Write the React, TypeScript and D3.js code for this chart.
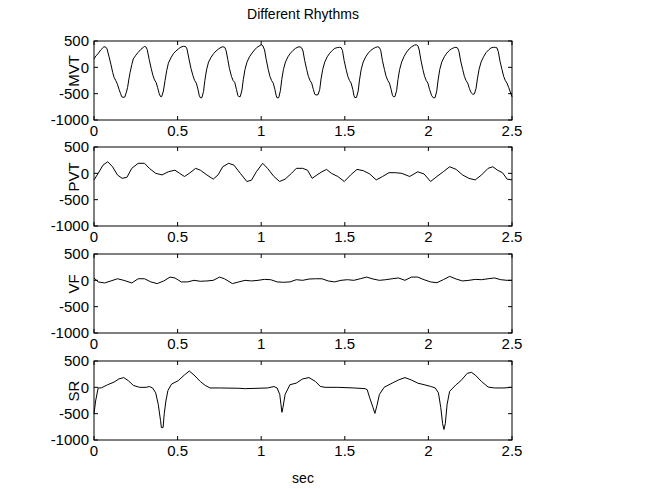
import React from 'react';
import * as d3 from 'd3';

// traces, [sec, value]
const mvt: [number, number][] = [
  [0, 160], [0.012, 220], [0.025, 260], [0.04, 330], [0.059, 390], [0.07, 385], [0.078, 350], [0.09, 200],
  [0.101, 60], [0.112, -100], [0.12, -190], [0.13, -250], [0.14, -320], [0.15, -420], [0.159, -500], [0.166, -560],
  [0.174, -570], [0.184, -565], [0.194, -470], [0.201, -380], [0.21, -200], [0.216, -95], [0.226, 50], [0.235, 160],
  [0.25, 230], [0.264, 285], [0.28, 340], [0.295, 380], [0.302, 395], [0.31, 390], [0.318, 340],
  [0.33, 150], [0.342, -20], [0.352, -150], [0.362, -240], [0.372, -290], [0.38, -380], [0.39, -500], [0.398, -557], [0.405, -555],
  [0.415, -450], [0.425, -250], [0.435, -60], [0.445, 80], [0.46, 180], [0.475, 260], [0.49, 310], [0.505, 350], [0.52, 385], [0.535, 400], [0.548, 395], [0.556, 350],
  [0.568, 160], [0.58, -20], [0.592, -160], [0.602, -250], [0.612, -300], [0.622, -420], [0.63, -540], [0.637, -580], [0.645, -575],
  [0.655, -460], [0.663, -250], [0.673, -50], [0.685, 100], [0.7, 190], [0.715, 260], [0.73, 310], [0.745, 350], [0.76, 380], [0.772, 390], [0.782, 380], [0.79, 320],
  [0.8, 150], [0.81, -20], [0.822, -170], [0.832, -250], [0.842, -290], [0.852, -420], [0.86, -530], [0.866, -557], [0.875, -555],
  [0.885, -430], [0.893, -230], [0.903, -40], [0.915, 100], [0.93, 200], [0.945, 270], [0.96, 330], [0.975, 380], [0.99, 410], [1.0, 430], [1.01, 410], [1.02, 330],
  [1.03, 150], [1.042, -40], [1.052, -170], [1.062, -250], [1.072, -300], [1.082, -420], [1.09, -540], [1.095, -580], [1.105, -575],
  [1.115, -440], [1.123, -230], [1.133, -40], [1.145, 100], [1.16, 200], [1.175, 270], [1.19, 320], [1.205, 360], [1.22, 385], [1.232, 390], [1.242, 370], [1.25, 310],
  [1.26, 130], [1.272, -40], [1.282, -170], [1.292, -250], [1.302, -300], [1.312, -420], [1.32, -510], [1.328, -525], [1.34, -520],
  [1.35, -420], [1.358, -220], [1.368, -40], [1.38, 100], [1.395, 200], [1.41, 270], [1.425, 320], [1.44, 360], [1.455, 375], [1.468, 380], [1.478, 375], [1.486, 320],
  [1.496, 130], [1.508, -40], [1.518, -170], [1.528, -250], [1.538, -300], [1.548, -420], [1.555, -540], [1.56, -575], [1.57, -570],
  [1.58, -450], [1.588, -240], [1.598, -40], [1.61, 100], [1.625, 200], [1.64, 270], [1.655, 320], [1.67, 355], [1.685, 380], [1.697, 390], [1.707, 375], [1.715, 320],
  [1.725, 130], [1.737, -40], [1.747, -170], [1.757, -250], [1.767, -300], [1.777, -420], [1.785, -530], [1.79, -557], [1.8, -555],
  [1.81, -440], [1.818, -230], [1.828, -40], [1.84, 100], [1.855, 210], [1.87, 290], [1.885, 350], [1.9, 390], [1.915, 420], [1.927, 430], [1.937, 410], [1.945, 330],
  [1.955, 140], [1.967, -40], [1.977, -170], [1.987, -250], [1.997, -300], [2.007, -420], [2.02, -540], [2.03, -580], [2.04, -575],
  [2.05, -450], [2.058, -240], [2.068, -40], [2.08, 100], [2.095, 200], [2.11, 270], [2.125, 320], [2.14, 355], [2.155, 375], [2.165, 380], [2.175, 365], [2.183, 300],
  [2.193, 120], [2.205, -40], [2.215, -170], [2.225, -250], [2.235, -300], [2.245, -400], [2.255, -480], [2.265, -510], [2.275, -505],
  [2.285, -400], [2.293, -220], [2.303, -40], [2.315, 100], [2.33, 200], [2.345, 280], [2.36, 330], [2.375, 370], [2.39, 380], [2.4, 380], [2.41, 370], [2.418, 300],
  [2.428, 120], [2.44, -40], [2.45, -170], [2.46, -250], [2.47, -300], [2.48, -380], [2.49, -470], [2.5, -560],
];

const pvt: [number, number][] = [
  [0, -125], [0.025, 0], [0.054, 156], [0.082, 220], [0.111, 125], [0.14, -30], [0.168, -95], [0.197, -75],
  [0.226, 95], [0.264, 190], [0.302, 190], [0.331, 95], [0.369, 0], [0.407, -30], [0.445, 30], [0.484, 60],
  [0.512, 0], [0.541, -60], [0.57, 0], [0.608, 95], [0.636, 60], [0.675, -30], [0.713, -110], [0.742, -30],
  [0.77, 125], [0.805, 190], [0.837, 156], [0.875, 0], [0.914, -155], [0.942, -130], [0.971, 30], [1.009, 190],
  [1.038, 95], [1.076, -60], [1.11, -155], [1.143, -110], [1.181, 0], [1.21, 95], [1.248, 95], [1.277, 60],
  [1.305, -95], [1.334, -30], [1.363, 30], [1.391, 75], [1.42, 0], [1.458, -60], [1.497, -155], [1.535, -30],
  [1.573, 75], [1.611, 50], [1.649, -12], [1.688, -125], [1.726, -60], [1.764, 12], [1.802, 12], [1.841, 0],
  [1.888, -60], [1.936, 30], [1.974, -12], [2.013, -155], [2.051, -60], [2.089, 30], [2.127, 125], [2.166, 75],
  [2.204, -30], [2.242, -95], [2.28, -125], [2.318, -30], [2.357, 95], [2.385, 125], [2.413, 60], [2.443, 12],
  [2.471, -110], [2.5, -125],
];

const vf: [number, number][] = [
  [0, 45], [0.025, -30], [0.063, -50], [0.101, -12], [0.14, 30], [0.178, 0], [0.226, -50], [0.264, 30],
  [0.302, 30], [0.34, -30], [0.378, -62], [0.417, -12], [0.455, 62], [0.484, 45], [0.522, -30], [0.56, -30],
  [0.598, 0], [0.636, -18], [0.675, -12], [0.713, 0], [0.751, 62], [0.78, 30], [0.828, -62], [0.866, -30],
  [0.904, 0], [0.942, -12], [0.981, 0], [1.019, 18], [1.057, 12], [1.095, -30], [1.133, -37], [1.172, -30],
  [1.21, 12], [1.248, 0], [1.286, 25], [1.325, 30], [1.363, 30], [1.401, -12], [1.439, -30], [1.477, 0],
  [1.516, 12], [1.554, 0], [1.592, 30], [1.631, 62], [1.669, 25], [1.707, 0], [1.745, 12], [1.783, 30],
  [1.821, 45], [1.86, 0], [1.898, 62], [1.936, 62], [1.974, 12], [2.013, -30], [2.051, -45], [2.089, 12],
  [2.127, 75], [2.166, 25], [2.204, -12], [2.242, 0], [2.28, 18], [2.318, 12], [2.357, 30], [2.395, 45],
  [2.433, 12], [2.471, 0], [2.5, 0],
];

const sr: [number, number][] = [
  [0, -500], [0.0096, -260], [0.025, -12], [0.044, -10], [0.082, 50], [0.12, 100], [0.149, 160], [0.178, 185],
  [0.206, 125], [0.235, 37], [0.273, 0], [0.312, 0], [0.331, 15], [0.35, -10], [0.369, -105], [0.384, -320],
  [0.398, -630], [0.403, -765], [0.413, -765], [0.42, -505], [0.43, -260], [0.442, -62], [0.464, 62], [0.503, 125],
  [0.541, 235], [0.57, 310], [0.598, 235], [0.636, 110], [0.665, 37], [0.694, -12], [0.751, -12], [0.866, -18],
  [0.904, -25], [0.981, -18], [1.038, -12], [1.076, 15], [1.095, -12], [1.111, -135], [1.118, -320], [1.124, -475],
  [1.13, -385], [1.143, -135], [1.172, 50], [1.21, 80], [1.248, 160], [1.286, 185], [1.325, 110], [1.353, 18],
  [1.382, 0], [1.458, 0], [1.554, -12], [1.621, -25], [1.634, -45], [1.649, -200], [1.669, -385], [1.68, -495],
  [1.692, -350], [1.707, -135], [1.735, 0], [1.783, 80], [1.821, 140], [1.86, 185], [1.898, 140], [1.936, 80],
  [1.974, 50], [2.013, 18], [2.041, -12], [2.06, -105], [2.074, -385], [2.085, -690], [2.093, -800], [2.101, -690],
  [2.112, -320], [2.127, -75], [2.166, 50], [2.194, 125], [2.232, 265], [2.257, 285], [2.28, 235], [2.318, 110],
  [2.357, 6], [2.395, -12], [2.452, -12], [2.5, 0],
];

const panelNames = ['MVT', 'PVT', 'VF', 'SR'];
const panelData = [mvt, pvt, vf, sr];
const xTicks = [0, 0.5, 1, 1.5, 2, 2.5];
const yTicks = [500, 0, -500, -1000];

const W = 645;
const H = 489;
const left = 94;
const right = 512;
const tops = [41, 147, 254, 361];
const ph = 79;
const font = 'Liberation Sans, Arial, Helvetica, sans-serif';

export default function App() {
  const x = d3.scaleLinear().domain([0, 2.5]).range([left, right]);

  return (
    <svg width={W} height={H} style={{ position: 'absolute', left: 0, top: 0, background: '#fff' }}
      fontFamily={font} fontSize={15}>
      <rect width={W} height={H} fill="#fff" />
      <text x={(left + right) / 2} y={19} textAnchor="middle" fontSize={14}>Different Rhythms</text>
      {panelData.map((data, i) => {
        const top = tops[i];
        const y = d3.scaleLinear().domain([-1000, 500]).range([top + ph, top]);
        const line = d3.line<[number, number]>().x(d => x(d[0])).y(d => y(d[1]));
        return (
          <g key={panelNames[i]}>
            <path d={line(data) || ''} fill="none" stroke="#000" strokeWidth={1} />
            <rect x={left} y={top} width={right - left} height={ph} fill="none" stroke="#000" strokeWidth={1} />
            {xTicks.map(t => (
              <g key={t}>
                <line x1={x(t)} x2={x(t)} y1={top + ph} y2={top + ph - 4} stroke="#000" />
                <line x1={x(t)} x2={x(t)} y1={top} y2={top + 4} stroke="#000" />
                <text x={x(t)} y={top + ph + 16} textAnchor="middle">{t}</text>
              </g>
            ))}
            {yTicks.map(v => (
              <g key={v}>
                <line x1={left} x2={left + 4} y1={y(v)} y2={y(v)} stroke="#000" />
                <line x1={right} x2={right - 4} y1={y(v)} y2={y(v)} stroke="#000" />
                <text x={left - 5} y={y(v)} dy="0.35em" textAnchor="end">{v}</text>
              </g>
            ))}
            <text transform={`translate(${left - 15},${top + 30}) rotate(-90)`} textAnchor="middle">
              {panelNames[i]}
            </text>
          </g>
        );
      })}
      <text x={(left + right) / 2} y={483} textAnchor="middle" fontSize={14}>sec</text>
    </svg>
  );
}
